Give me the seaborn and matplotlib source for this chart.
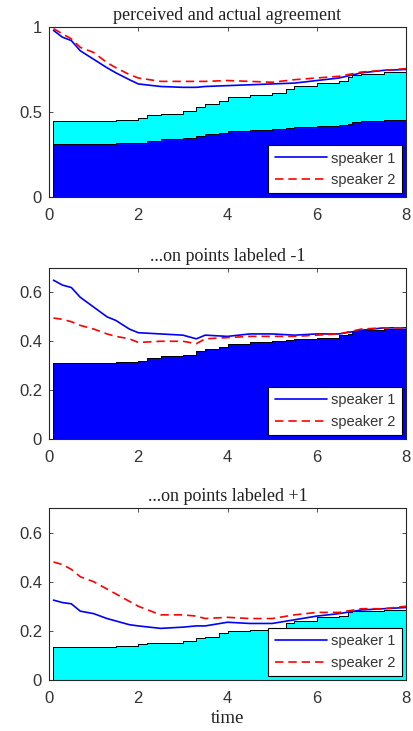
import numpy as np
import pandas as pd
import matplotlib
matplotlib.use("Agg")
import matplotlib.pyplot as plt
import seaborn as sns

#### DATA

# stacked area (step) : contribution of points labeled -1 and +1
t_area = [0.1, 1.5, 2.0, 2.2, 2.5, 3.0, 3.3, 3.5, 3.8, 4.0, 4.5, 5.0, 5.3, 5.5,
          6.0, 6.5, 6.7, 6.8, 7.0, 7.5, 8.0]
neg_area = [0.31, 0.315, 0.32, 0.33, 0.34, 0.345, 0.36, 0.37, 0.375, 0.39, 0.395,
            0.40, 0.405, 0.41, 0.415, 0.425, 0.43, 0.44, 0.445, 0.45, 0.455]
pos_area = [0.135, 0.14, 0.145, 0.15, 0.15, 0.16, 0.17, 0.175, 0.19, 0.20, 0.203,
            0.21, 0.23, 0.24, 0.255, 0.26, 0.275, 0.28, 0.28, 0.285, 0.29]

# speaker curves
t_line = [0.1, 0.3, 0.5, 0.7, 1.0, 1.3, 1.5, 1.8, 2.0, 2.5, 3.0, 3.3, 3.5, 4.0,
          4.5, 5.0, 5.5, 6.0, 6.5, 7.0, 7.5, 8.0]
all_s1 = [0.98, 0.94, 0.92, 0.86, 0.81, 0.76, 0.73, 0.69, 0.665, 0.65, 0.645, 0.645,
          0.65, 0.655, 0.66, 0.665, 0.67, 0.685, 0.70, 0.73, 0.745, 0.75]
all_s2 = [0.99, 0.96, 0.93, 0.88, 0.85, 0.79, 0.76, 0.72, 0.70, 0.68, 0.68, 0.68,
          0.68, 0.685, 0.68, 0.675, 0.69, 0.70, 0.71, 0.735, 0.745, 0.755]
neg_s1 = [0.65, 0.63, 0.62, 0.58, 0.54, 0.50, 0.485, 0.45, 0.435, 0.43, 0.425, 0.41,
          0.425, 0.42, 0.43, 0.43, 0.425, 0.43, 0.43, 0.445, 0.455, 0.455]
neg_s2 = [0.495, 0.49, 0.48, 0.465, 0.45, 0.43, 0.42, 0.41, 0.395, 0.40, 0.40, 0.39,
          0.41, 0.415, 0.42, 0.42, 0.42, 0.425, 0.43, 0.45, 0.455, 0.455]
pos_s1 = [0.325, 0.315, 0.31, 0.28, 0.27, 0.25, 0.24, 0.225, 0.22, 0.21, 0.215, 0.22,
          0.22, 0.235, 0.23, 0.23, 0.245, 0.26, 0.27, 0.285, 0.29, 0.295]
pos_s2 = [0.48, 0.47, 0.45, 0.42, 0.40, 0.37, 0.35, 0.32, 0.30, 0.265, 0.265, 0.26,
          0.25, 0.255, 0.25, 0.25, 0.265, 0.275, 0.275, 0.29, 0.29, 0.30]

titles = ["perceived and actual agreement", "...on points labeled -1", "...on points labeled +1"]

#### STYLE

sns.set_style("ticks")
plt.rcParams['font.family'] = ['Liberation Sans', 'DejaVu Sans']
plt.rcParams['xtick.direction'] = 'in'
plt.rcParams['ytick.direction'] = 'in'
plt.rcParams['xtick.top'] = True
plt.rcParams['ytick.right'] = True
plt.rcParams['xtick.major.size'] = 3
plt.rcParams['ytick.major.size'] = 3
plt.rcParams['axes.edgecolor'] = '#262626'
plt.rcParams['axes.linewidth'] = 0.8
gray = '#333333'

fig = plt.figure(figsize=(4.14, 7.31), dpi=100)
boxes = [[0.1184, 0.7305, 0.8623, 0.2326],
         [0.1184, 0.3995, 0.8623, 0.2339],
         [0.1184, 0.0698, 0.8623, 0.2353]]
axes = [fig.add_axes(b) for b in boxes]

area = pd.DataFrame({'t': t_area, 'neg': neg_area, 'pos': pos_area})
area['tot'] = area['neg'] + area['pos']

lines = [(all_s1, all_s2), (neg_s1, neg_s2), (pos_s1, pos_s2)]

for i, ax in enumerate(axes):
    if i == 0:
        ax.fill_between(area['t'], 0, area['neg'], step='post', color='#0000FF', lw=0)
        ax.fill_between(area['t'], area['neg'], area['tot'], step='post', color='#00FFFF', lw=0)
        ax.step(area['t'], area['neg'], where='post', color='k', lw=0.7)
        ax.step(area['t'], area['tot'], where='post', color='k', lw=0.7)
        ax.vlines(area['t'].iloc[0], 0, area['tot'].iloc[0], color='k', lw=0.7)
    else:
        col = 'neg' if i == 1 else 'pos'
        fc = '#0000FF' if i == 1 else '#00FFFF'
        ax.fill_between(area['t'], 0, area[col], step='post', color=fc, lw=0)
        ax.step(area['t'], area[col], where='post', color='k', lw=0.7)
        ax.vlines(area['t'].iloc[0], 0, area[col].iloc[0], color='k', lw=0.7)

    s1, s2 = lines[i]
    sns.lineplot(x=t_line, y=s1, ax=ax, color='#0000FF', lw=1.2, label='speaker 1')
    l2 = sns.lineplot(x=t_line, y=s2, ax=ax, color='#FF0000', lw=1.2,
                      label='speaker 2').lines[-1]
    l2.set_dashes([5, 3])

    ax.set_xlim(0, 8)
    ax.set_xticks([0, 2, 4, 6, 8])
    if i == 0:
        ax.set_ylim(0, 1)
        ax.set_yticks([0, 0.5, 1])
        ax.set_yticklabels(['0', '0.5', '1'])
    else:
        ax.set_ylim(0, 0.7)
        ax.set_yticks([0, 0.2, 0.4, 0.6])
        ax.set_yticklabels(['0', '0.2', '0.4', '0.6'])
    ax.tick_params(labelsize=12, colors=gray, width=0.6)
    ax.tick_params(axis='x', pad=8)
    ax.tick_params(axis='y', pad=5)
    ax.set_title(titles[i], family=['Liberation Serif'], fontsize=13, color='#222222', pad=5)

    leg = ax.legend(loc='lower right', fontsize=10.5, frameon=True, fancybox=False,
                    framealpha=1, edgecolor='k', handlelength=3.6, borderpad=0.45,
                    labelspacing=0.5, handletextpad=0.3, borderaxespad=0.25)
    leg.get_frame().set_linewidth(0.8)
    for txt in leg.get_texts():
        txt.set_color(gray)
    for s in ax.spines.values():
        s.set_visible(True)

axes[2].set_xlabel('time', family=['Liberation Serif'], fontsize=13.5, color='#222222', labelpad=3)

plt.savefig('out.png', dpi=100)
